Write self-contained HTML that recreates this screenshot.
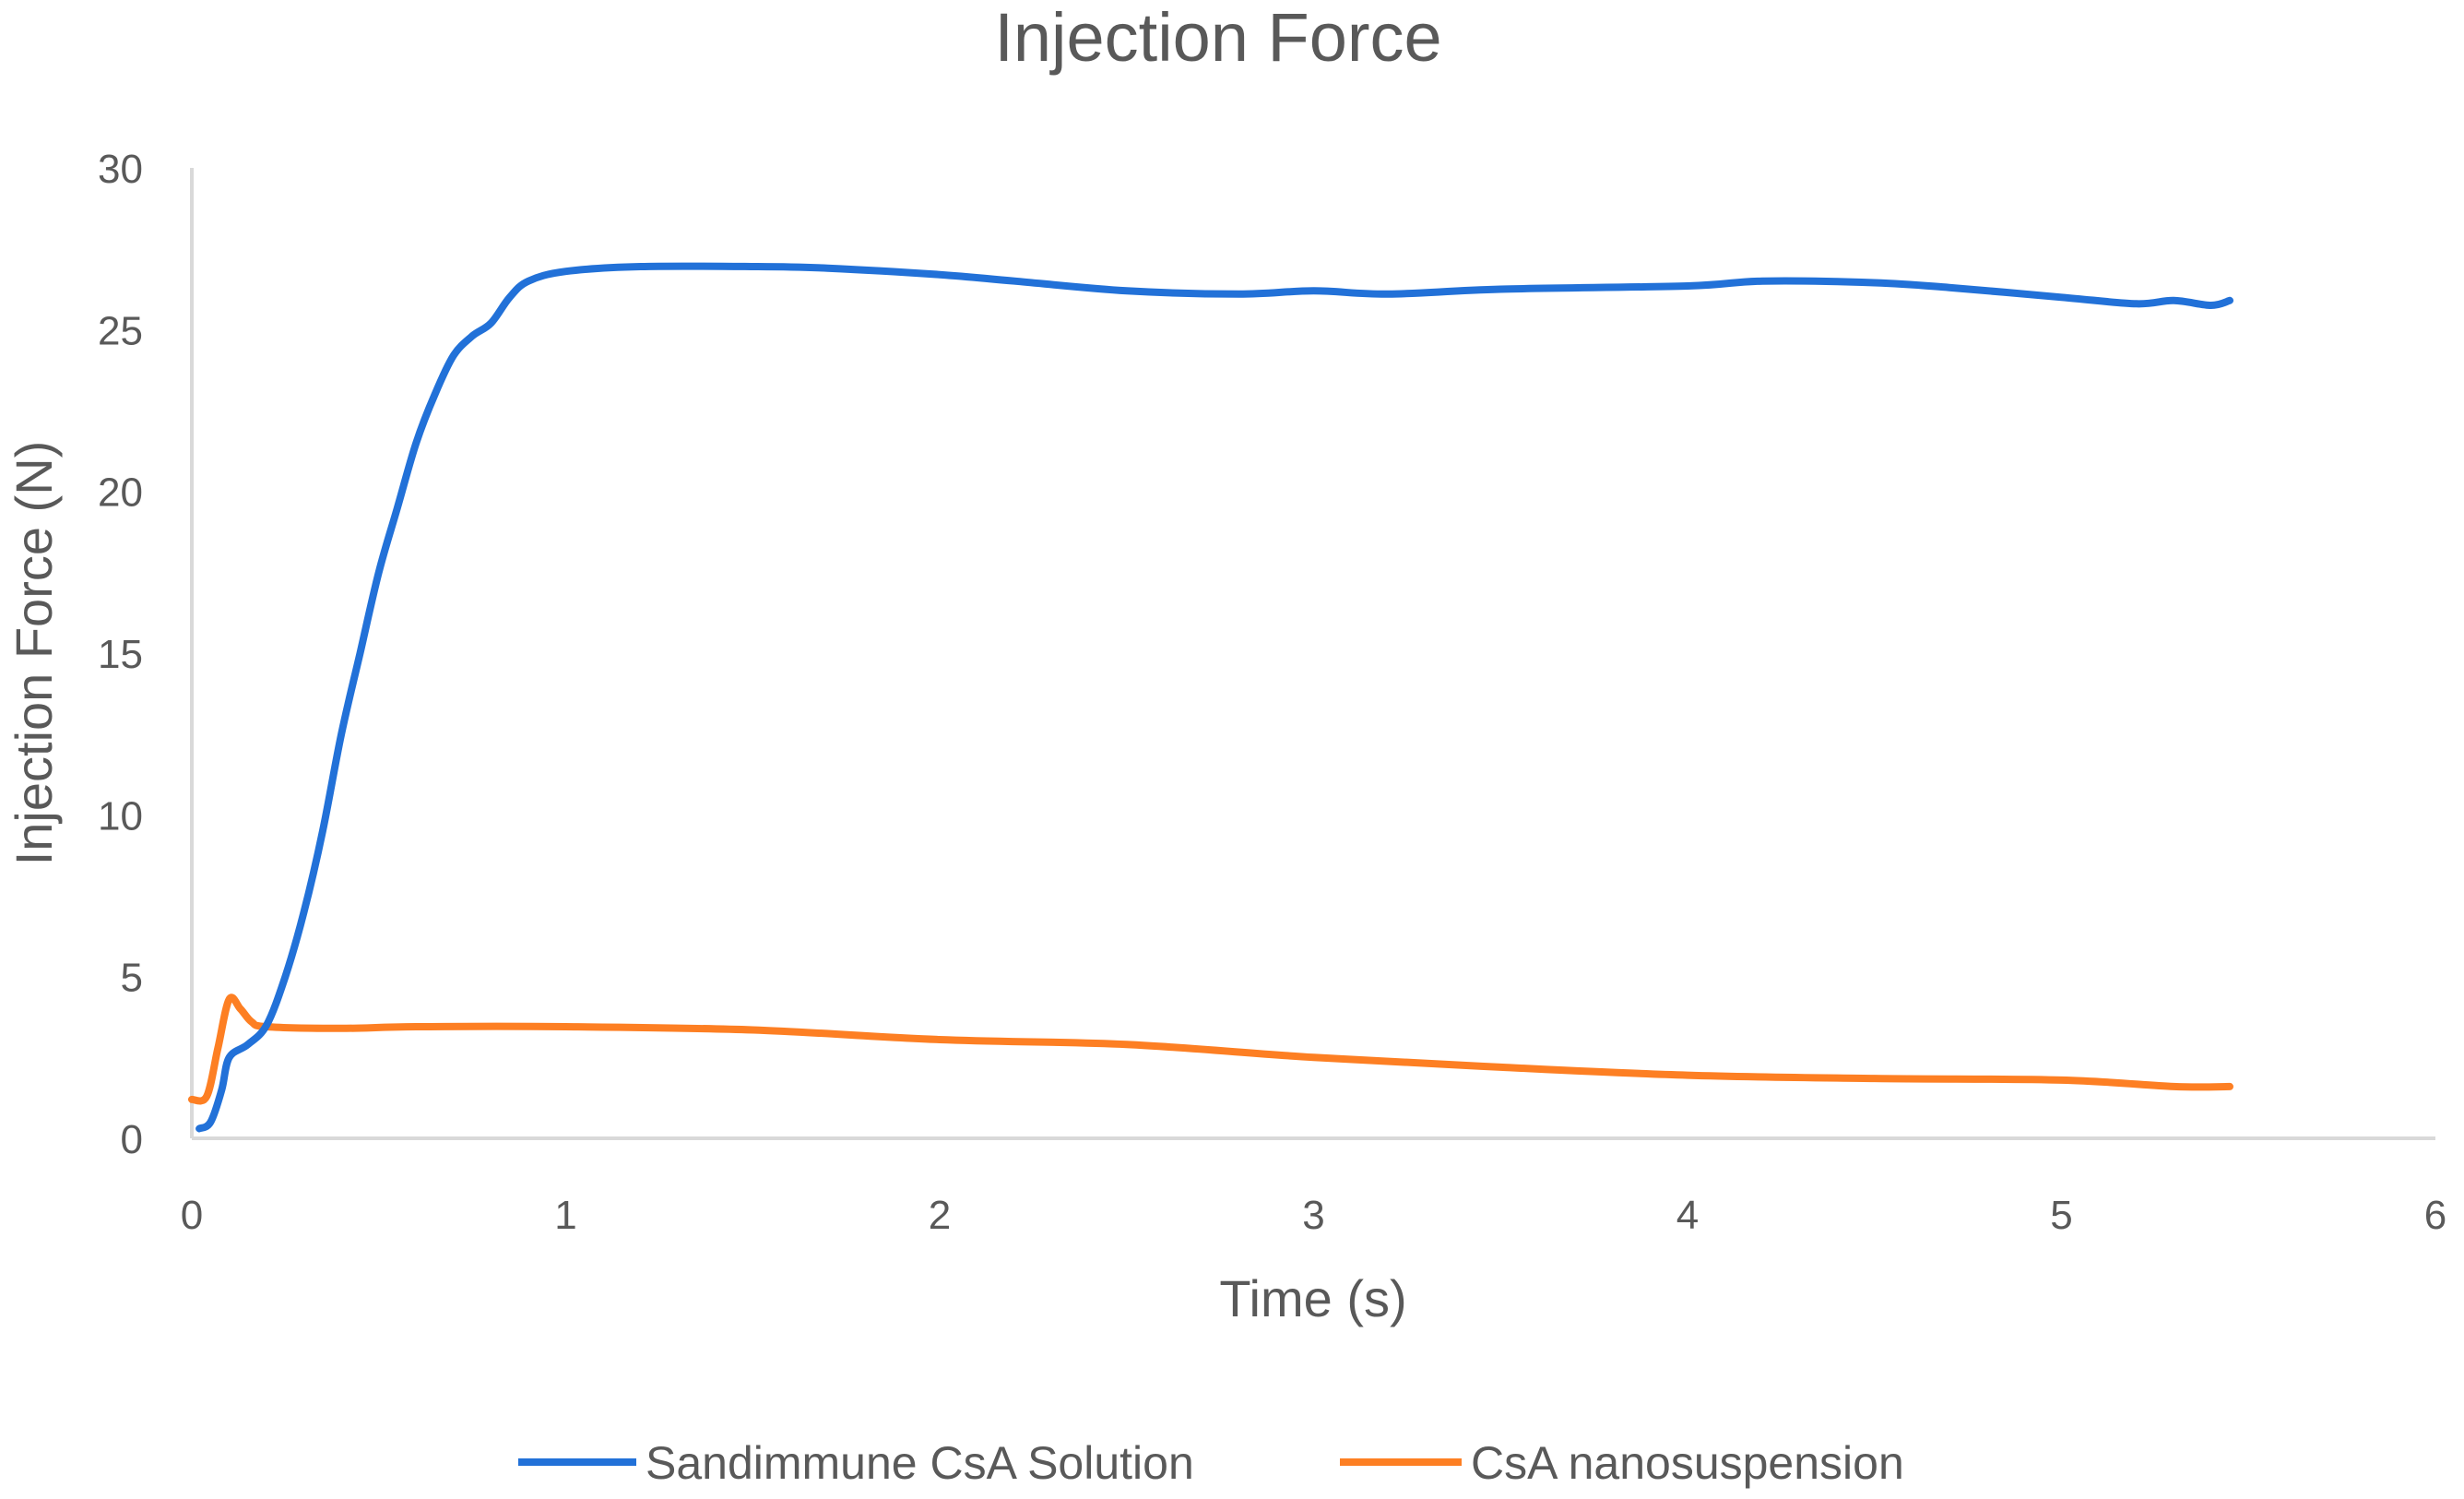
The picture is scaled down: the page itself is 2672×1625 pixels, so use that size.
<!DOCTYPE html>
<html><head><meta charset="utf-8"><style>
html,body{margin:0;padding:0;background:#fff;}
svg{display:block;font-family:"Liberation Sans",sans-serif;}
</style></head><body>
<svg id="chart" width="2672" height="1625" viewBox="0 0 2672 1625">
<text x="1321" y="66" font-size="74" fill="#595959" text-anchor="middle">Injection Force</text>
<g id="grid"></g>
<text transform="translate(56,708) rotate(-90)" font-size="56" fill="#595959" text-anchor="middle">Injection Force (N)</text>
<text x="1424" y="1427" font-size="56" fill="#595959" text-anchor="middle">Time (s)</text>
<g id="series"></g>
<g>
<line x1="562" y1="1585" x2="690" y2="1585" stroke="#2271d8" stroke-width="8"/>
<text x="700" y="1603" font-size="50" fill="#595959">Sandimmune CsA Solution</text>
<line x1="1453" y1="1585" x2="1585" y2="1585" stroke="#fd7f23" stroke-width="8"/>
<text x="1595" y="1603" font-size="50" fill="#595959">CsA nanosuspension</text>
</g>
</svg>
<script>
const xTicks=[0,1,2,3,4,5,6];
const yTicks=[0,5,10,15,20,25,30];
const blueT=[0.02,0.05,0.08,0.1,0.15,0.2,0.25,0.3,0.35,0.4,0.45,0.5,0.55,0.6,0.65,0.7,0.75,0.8,0.85,0.9,1.0,1.2,1.5,1.7,2.0,2.2,2.5,2.8,3.0,3.2,3.5,4.0,4.2,4.5,4.7,5.0,5.2,5.3,5.4,5.45];
const blueF=[0.3,0.5,1.5,2.5,2.9,3.5,5,7,9.5,12.5,15,17.5,19.5,21.5,23,24.2,24.8,25.2,26,26.5,26.8,26.95,26.95,26.9,26.7,26.5,26.2,26.1,26.2,26.1,26.25,26.35,26.5,26.45,26.3,26.0,25.8,25.9,25.75,25.9];
const orangeT=[0,0.04,0.07,0.1,0.13,0.16,0.2,0.4,0.6,1.0,1.5,2.0,2.5,3.0,3.5,4.0,4.5,5.0,5.3,5.45];
const orangeF=[1.2,1.3,2.8,4.3,4.0,3.6,3.45,3.4,3.45,3.45,3.35,3.05,2.9,2.5,2.2,1.95,1.85,1.8,1.6,1.6];
const X0=208,X1=2641,Y0=1234,Y1=182;
const sx=v=>X0+(v-0)/(6-0)*(X1-X0);
const sy=v=>Y0-(v-0)/(30-0)*(Y0-Y1);
const NS="http://www.w3.org/2000/svg";
const grid=document.getElementById('grid');
const series=document.getElementById('series');
function mk(tag,attrs,parent){const e=document.createElementNS(NS,tag);for(const k in attrs)e.setAttribute(k,attrs[k]);parent.appendChild(e);return e;}
const ya=mk('line',{x1:X0,y1:Y1,x2:X0,y2:Y0,stroke:'#d9d9d9','stroke-width':4},grid);


const xa=mk('line',{x1:X0,y1:Y0,x2:X1,y2:Y0,stroke:'#d9d9d9','stroke-width':4},grid);


yTicks.forEach(v=>{const t=mk('text',{x:155,y:sy(v)+16,'font-size':44,fill:'#595959','text-anchor':'end'},grid);t.textContent=v;

});
xTicks.forEach(v=>{const t=mk('text',{x:sx(v),y:1332,'font-size':44,fill:'#595959','text-anchor':'middle'},grid);t.textContent=v;

});
function line(ts,fs,color,name){
 const P=ts.map((t,i)=>[sx(t),sy(fs[i])]);
 let d='M'+P[0][0].toFixed(1)+','+P[0][1].toFixed(1);
 for(let i=0;i<P.length-1;i++){
  const p0=P[Math.max(i-1,0)],p1=P[i],p2=P[i+1],p3=P[Math.min(i+2,P.length-1)];
  const c1=[p1[0]+(p2[0]-p0[0])/6,p1[1]+(p2[1]-p0[1])/6];
  const c2=[p2[0]-(p3[0]-p1[0])/6,p2[1]-(p3[1]-p1[1])/6];
  d+=' C'+c1.map(v=>v.toFixed(1)).join(',')+' '+c2.map(v=>v.toFixed(1)).join(',')+' '+p2.map(v=>v.toFixed(1)).join(',');
 }
 const p=mk('path',{d:d,fill:'none',stroke:color,'stroke-width':8,'stroke-linejoin':'round','stroke-linecap':'round'},series);
 
 
}
line(orangeT,orangeF,'#fd7f23','series-csa-nanosuspension');
line(blueT,blueF,'#2271d8','series-sandimmune-csa-solution');
</script>
</body></html>
